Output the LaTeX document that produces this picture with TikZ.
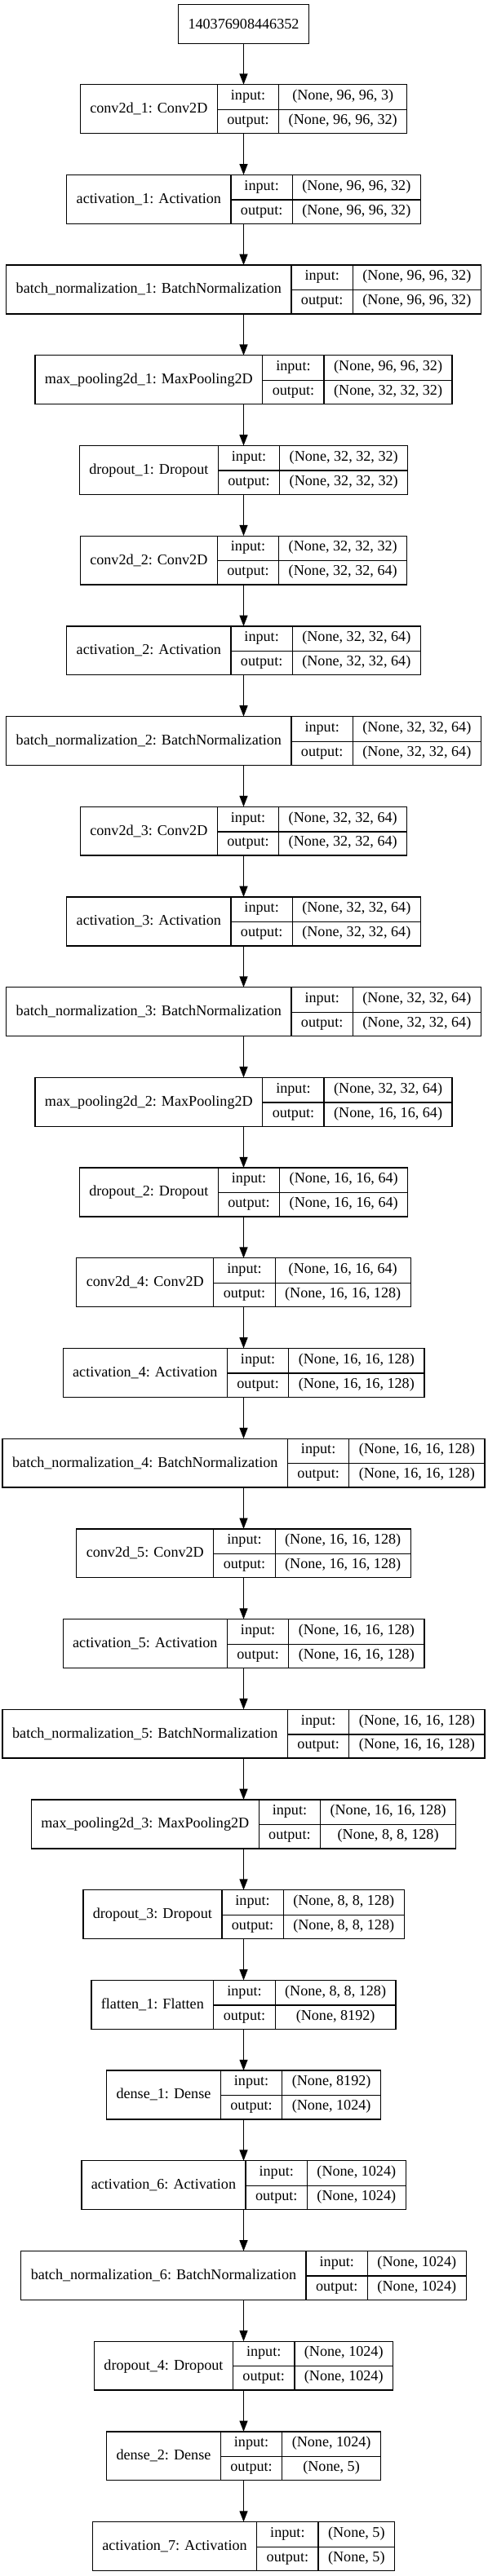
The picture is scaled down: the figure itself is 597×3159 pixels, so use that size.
\documentclass[tikz,border=0pt]{standalone}
\usepackage{fontspec}
\setmainfont{Liberation Serif}
\usepackage{tikz}
\usetikzlibrary{arrows.meta}
\usetikzlibrary{positioning}

\newcommand{\kfont}{\fontsize{13.6}{16}\selectfont}
\setlength{\arrayrulewidth}{1pt}
\setlength{\tabcolsep}{9pt}
\newcommand{\rowstrut}{\rule[-8.4pt]{0pt}{22.45pt}}

% one keras layer: index, label, input shape, output shape
\newcommand{\kerasbox}[4]{%
  \node[layer box] (L#1) at (298.5,{133.6+(#1-1)*110.7})
    {\begin{tabular}{c|c|c}
       \raisebox{-12.1pt}[0pt][0pt]{#2} & \rowstrut input: & #3\\ \cline{2-3}
       & \rowstrut output: & #4
     \end{tabular}};
}

\begin{document}
\begin{tikzpicture}[
    x=0.75pt, y=-0.75pt,
    line width=1pt,
    layer box/.style={draw, inner sep=0pt, outer sep=0pt, font=\kfont},
    flow/.style={-{Triangle[length=10pt,width=7.5pt]}}
    ]
    \useasboundingbox (0,0) rectangle (597,3159);

    % input
    \node[layer box, inner xsep=9pt, minimum height=36pt] (in) at (298.5,29.5) {140376908446352};

    % layers
    \kerasbox{1}{conv2d\_1: Conv2D}{(None, 96, 96, 3)}{(None, 96, 96, 32)}
    \kerasbox{2}{activation\_1: Activation}{(None, 96, 96, 32)}{(None, 96, 96, 32)}
    \kerasbox{3}{batch\_normalization\_1: BatchNormalization}{(None, 96, 96, 32)}{(None, 96, 96, 32)}
    \kerasbox{4}{max\_pooling2d\_1: MaxPooling2D}{(None, 96, 96, 32)}{(None, 32, 32, 32)}
    \kerasbox{5}{dropout\_1: Dropout}{(None, 32, 32, 32)}{(None, 32, 32, 32)}
    \kerasbox{6}{conv2d\_2: Conv2D}{(None, 32, 32, 32)}{(None, 32, 32, 64)}
    \kerasbox{7}{activation\_2: Activation}{(None, 32, 32, 64)}{(None, 32, 32, 64)}
    \kerasbox{8}{batch\_normalization\_2: BatchNormalization}{(None, 32, 32, 64)}{(None, 32, 32, 64)}
    \kerasbox{9}{conv2d\_3: Conv2D}{(None, 32, 32, 64)}{(None, 32, 32, 64)}
    \kerasbox{10}{activation\_3: Activation}{(None, 32, 32, 64)}{(None, 32, 32, 64)}
    \kerasbox{11}{batch\_normalization\_3: BatchNormalization}{(None, 32, 32, 64)}{(None, 32, 32, 64)}
    \kerasbox{12}{max\_pooling2d\_2: MaxPooling2D}{(None, 32, 32, 64)}{(None, 16, 16, 64)}
    \kerasbox{13}{dropout\_2: Dropout}{(None, 16, 16, 64)}{(None, 16, 16, 64)}
    \kerasbox{14}{conv2d\_4: Conv2D}{(None, 16, 16, 64)}{(None, 16, 16, 128)}
    \kerasbox{15}{activation\_4: Activation}{(None, 16, 16, 128)}{(None, 16, 16, 128)}
    \kerasbox{16}{batch\_normalization\_4: BatchNormalization}{(None, 16, 16, 128)}{(None, 16, 16, 128)}
    \kerasbox{17}{conv2d\_5: Conv2D}{(None, 16, 16, 128)}{(None, 16, 16, 128)}
    \kerasbox{18}{activation\_5: Activation}{(None, 16, 16, 128)}{(None, 16, 16, 128)}
    \kerasbox{19}{batch\_normalization\_5: BatchNormalization}{(None, 16, 16, 128)}{(None, 16, 16, 128)}
    \kerasbox{20}{max\_pooling2d\_3: MaxPooling2D}{(None, 16, 16, 128)}{(None, 8, 8, 128)}
    \kerasbox{21}{dropout\_3: Dropout}{(None, 8, 8, 128)}{(None, 8, 8, 128)}
    \kerasbox{22}{flatten\_1: Flatten}{(None, 8, 8, 128)}{(None, 8192)}
    \kerasbox{23}{dense\_1: Dense}{(None, 8192)}{(None, 1024)}
    \kerasbox{24}{activation\_6: Activation}{(None, 1024)}{(None, 1024)}
    \kerasbox{25}{batch\_normalization\_6: BatchNormalization}{(None, 1024)}{(None, 1024)}
    \kerasbox{26}{dropout\_4: Dropout}{(None, 1024)}{(None, 1024)}
    \kerasbox{27}{dense\_2: Dense}{(None, 1024)}{(None, 5)}
    \kerasbox{28}{activation\_7: Activation}{(None, 5)}{(None, 5)}

    % arrows
    \draw[flow] (in.south) -- (L1.north);
    \foreach \i [count=\j from 1] in {2,...,28}
        \draw[flow] (L\j.south) -- (L\i.north);
\end{tikzpicture}
\end{document}
